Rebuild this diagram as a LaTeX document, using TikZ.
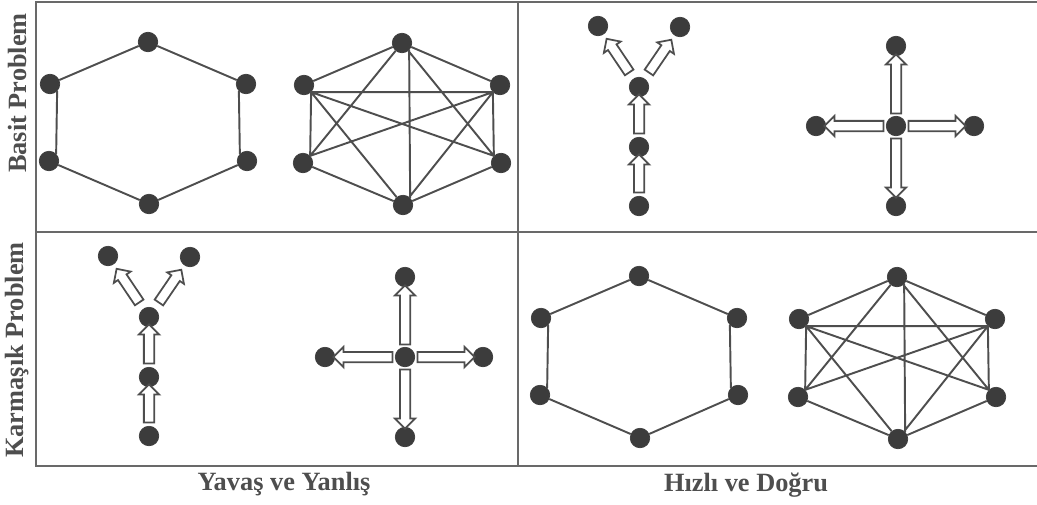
\documentclass[tikz,border=0pt]{standalone}
\usepackage{fontspec}
\setmainfont{Liberation Serif}
\usetikzlibrary{calc,shapes.arrows}

\definecolor{ink}{HTML}{4E4E4E}
\definecolor{dotgray}{HTML}{3C3C3C}

% hollow block arrow from node #1 to node #2, gaps #3 / #4 from the centres
\newcommand{\blockarr}[4]{%
  \path let \p1=($(#1)!#3!(#2)$), \p2=($(#2)!#4!(#1)$), \p3=($(\p2)-(\p1)$),
    \n1={atan2(\y3,\x3)}, \n2={veclen(\x3,\y3)} in
    node[blockarrow, rotate=\n1, minimum height=\n2] at ($(\p1)!0.5!(\p2)$) {};
}

\begin{document}
\begin{tikzpicture}[x=0.02cm,y=-0.02cm,
  dot/.style={circle,fill=dotgray,draw=dotgray,inner sep=0pt,minimum size=0.39cm},
  link/.style={draw=ink,line width=1.1pt},
  frame/.style={draw=ink!85,line width=1.2pt},
  blockarrow/.style={single arrow,draw=ink,fill=white,line width=1pt,inner xsep=0pt,
    inner ysep=0.085cm,single arrow head extend=0.1cm,single arrow head indent=0pt},
  lbl/.style={text=ink,font=\fontsize{15}{18}\selectfont\bfseries}]

\useasboundingbox (0,0) rectangle (1037,504);

% frame
\draw[frame] (1037,2) -- (36,2) -- (36,466) -- (1037,466);
\draw[frame] (36,232) -- (1037,232);
\draw[frame] (518,2) -- (518,466);

\node[lbl,rotate=90] (basit) at (17,93) {Basit Problem};
\node[lbl,rotate=90] (karmasik) at (17,350) {Karmaşık Problem};
\node[lbl] (yavas) at (284,484) {Yavaş ve Yanlış};
\node[lbl] (hizli) at (746,485) {Hızlı ve Doğru};

% hexagons
\foreach \g/\cx/\cy in {ha/148/123, hb/639/357}{
  \begin{scope}[shift={(\cx,\cy)}]
    \node[dot] (\g-t) at (0,-81) {};
    \node[dot] (\g-ul) at (-98,-39) {};
    \node[dot] (\g-ur) at (98,-39) {};
    \node[dot] (\g-ll) at (-99,38) {};
    \node[dot] (\g-lr) at (99,38) {};
    \node[dot] (\g-b) at (1,81) {};
  \end{scope}
  \draw[link] (\g-t) -- (\g-ur) (\g-ur.south west) -- (\g-lr.north west) (\g-lr) -- (\g-b) -- (\g-ll)
    (\g-ll.north east) -- (\g-ul.south east) (\g-ul) -- (\g-t);
}

% all links
\foreach \g/\cx/\cy in {ka/402/124, kb/897/358}{
  \begin{scope}[shift={(\cx,\cy)}]
    \node[dot] (\g-t) at (0,-81) {};
    \node[dot] (\g-ul) at (-98,-39) {};
    \node[dot] (\g-ur) at (98,-39) {};
    \node[dot] (\g-ll) at (-99,39) {};
    \node[dot] (\g-lr) at (99,39) {};
    \node[dot] (\g-b) at (1,81) {};
  \end{scope}
  \draw[link] (\g-t) -- (\g-ul) (\g-t) -- (\g-ur) (\g-t.south east) -- (\g-b.north east)
    (\g-t) -- (\g-ll.north east) (\g-t) -- (\g-lr.north west)
    (\g-b) -- (\g-ll) (\g-b) -- (\g-lr) (\g-b) -- (\g-ul.south east) (\g-b) -- (\g-ur.south west)
    (\g-ll.north east) -- (\g-ul.south east) -- (\g-ur.south west) -- (\g-lr.north west) -- (\g-ul.south east)
    (\g-ur.south west) -- (\g-ll.north east);
}

% chains
\foreach \g/\cx/\cy in {ya/639/87, yb/149/317}{
  \begin{scope}[shift={(\cx,\cy)}]
    \node[dot] (\g-tl) at (-41,-61) {};
    \node[dot] (\g-tr) at (41,-60) {};
    \node[dot] (\g-m) at (0,0) {};
    \node[dot] (\g-l) at (0,60) {};
    \node[dot] (\g-b) at (0,119) {};
  \end{scope}
  \blockarr{\g-b}{\g-l}{0.22cm}{0.2cm}
  \blockarr{\g-l}{\g-m}{0.22cm}{0.2cm}
  \blockarr{\g-m}{\g-tl}{0.3cm}{0.36cm}
  \blockarr{\g-m}{\g-tr}{0.3cm}{0.36cm}
}

% stars
\foreach \g/\cx/\cy in {xa/896/126, xb/405/357}{
  \begin{scope}[shift={(\cx,\cy)}]
    \node[dot] (\g-c) at (0,0) {};
    \node[dot] (\g-n) at (0,-80) {};
    \node[dot] (\g-w) at (-80,0) {};
    \node[dot] (\g-e) at (78,0) {};
    \node[dot] (\g-s) at (0,80) {};
  \end{scope}
  \foreach \dir in {n,w,e,s}{\blockarr{\g-c}{\g-\dir}{0.2cm}{0.22cm}}
}
\end{tikzpicture}
\end{document}
